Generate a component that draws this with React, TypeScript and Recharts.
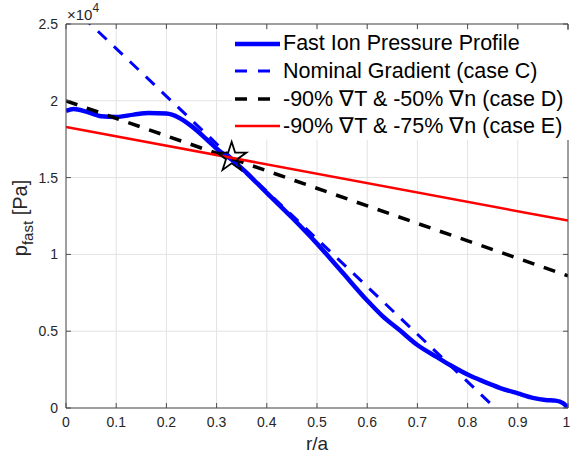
import React from 'react';
import {
  ComposedChart,
  Line,
  Scatter,
  XAxis,
  YAxis,
  ZAxis,
  CartesianGrid,
  Legend,
} from 'recharts';

const FONT = "'Liberation Sans', Arial, Helvetica, sans-serif";
const AXIS_COLOR = '#4d4d4d';
const TEXT_COLOR = '#262626';
const GRID_COLOR = '#e3e3e3';

const R_TICKS = [0, 0.1, 0.2, 0.3, 0.4, 0.5, 0.6, 0.7, 0.8, 0.9, 1];
const P_TICKS = [0, 0.5, 1, 1.5, 2, 2.5];

// fast ion pressure, in units of 1e4 Pa
const PROFILE_R = [
  0, 0.015, 0.04, 0.07, 0.1, 0.135, 0.165, 0.2, 0.225, 0.25, 0.28, 0.305, 0.333,
  0.36, 0.4, 0.45, 0.5, 0.55, 0.6, 0.63, 0.665, 0.7, 0.738, 0.765, 0.8, 0.83, 0.865,
  0.9, 0.93, 0.955, 0.975, 0.99, 1,
];
const PROFILE_P = [
  1.935, 1.946, 1.93, 1.9, 1.895, 1.91, 1.92, 1.917, 1.89, 1.835, 1.75, 1.675, 1.61,
  1.53, 1.4, 1.24, 1.07, 0.885, 0.7, 0.6, 0.506, 0.41, 0.333, 0.28, 0.218, 0.175,
  0.13, 0.095, 0.066, 0.052, 0.048, 0.032, 0,
];

const CASE_C_R = [0, 0.855];
const CASE_C_P = [2.65, 0];
const CASE_D_R = [0, 1];
const CASE_D_P = [2.0, 0.86];
const CASE_E_R = [0, 1];
const CASE_E_P = [1.83, 1.22];

const STAR_R = [0.33];
const STAR_P = [1.632];

const toRows = (r: number[], p: number[]) => r.map((x, i) => ({ r: x, p: p[i] }));

const SERIES = [
  { name: 'Fast Ion Pressure Profile', data: toRows(PROFILE_R, PROFILE_P), color: '#0000ff', width: 4.5, dash: undefined, curve: 'monotone' },
  { name: 'Nominal Gradient (case C)', data: toRows(CASE_C_R, CASE_C_P), color: '#0000ff', width: 3, dash: '12 10', curve: 'linear' },
  { name: '-90% \u2207T & -50% \u2207n (case D)', data: toRows(CASE_D_R, CASE_D_P), color: '#000000', width: 3.5, dash: '12 10', curve: 'linear' },
  { name: '-90% \u2207T & -75% \u2207n (case E)', data: toRows(CASE_E_R, CASE_E_P), color: '#ff0000', width: 2.5, dash: undefined, curve: 'linear' },
];

const LegendBox = () => (
  <div style={{ background: '#fff', padding: '0 4px 0 3px', fontFamily: FONT, fontSize: 21.5, color: '#000' }}>
    {SERIES.map((s) => (
      <div key={s.name} style={{ display: 'flex', alignItems: 'center', height: 27.5 }}>
        <svg width={45} height={10} style={{ flexShrink: 0 }}>
          <line x1={0} x2={45} y1={5} y2={5} stroke={s.color} strokeWidth={s.width} strokeDasharray={s.dash ? '12 11' : undefined} />
        </svg>
        <span style={{ marginLeft: 3, whiteSpace: 'nowrap' }}>{s.name}</span>
      </div>
    ))}
  </div>
);

const YLabel = (props: any) => {
  const { x, y, width, height } = props.viewBox;
  const cx = x + 27;
  const cy = y + height / 2 + 2;
  return (
    <g fontFamily={FONT} fill={TEXT_COLOR}>
      <text x={cx} y={cy} transform={`rotate(-90 ${cx} ${cy})`} textAnchor="middle" fontSize={20}>
        p<tspan fontSize={15} dy={6}>fast</tspan>
        <tspan dy={-6}> [Pa]</tspan>
      </text>
      <text x={x + width + 1} y={y - 4} fontSize={15}>
        {'\u00d710'}
        <tspan fontSize={12} dy={-8}>4</tspan>
      </text>
    </g>
  );
};

export default function App() {
  return (
    <div style={{ width: 570, height: 460 }}>
      <style>{'body{margin:0}'}</style>
      <ComposedChart width={570} height={460} margin={{ top: 24, right: 2, left: 0, bottom: 0 }}>
        <CartesianGrid stroke={GRID_COLOR} verticalValues={R_TICKS} horizontalValues={P_TICKS} />
        <XAxis
          xAxisId={0}
          type="number"
          dataKey="r"
          domain={[0, 1]}
          ticks={R_TICKS}
          allowDataOverflow
          height={52}
          tickSize={-5}
          tickMargin={14}
          stroke={AXIS_COLOR}
          tick={{ fill: TEXT_COLOR, fontSize: 14, fontFamily: FONT }}
          label={{ value: 'r/a', position: 'insideBottom', offset: 10, fill: TEXT_COLOR, fontSize: 19, fontFamily: FONT }}
        />
        <XAxis
          xAxisId="top"
          orientation="top"
          type="number"
          dataKey="r"
          domain={[0, 1]}
          ticks={R_TICKS}
          allowDataOverflow
          mirror
          tickSize={5}
          stroke={AXIS_COLOR}
          tickFormatter={() => ''}
        />
        <YAxis
          yAxisId={0}
          type="number"
          dataKey="p"
          domain={[0, 2.5]}
          ticks={P_TICKS}
          allowDataOverflow
          width={66}
          tickSize={-5}
          tickMargin={13}
          stroke={AXIS_COLOR}
          tick={{ fill: TEXT_COLOR, fontSize: 14, fontFamily: FONT }}
          label={{ content: YLabel }}
        />
        <YAxis
          yAxisId="right"
          orientation="right"
          type="number"
          dataKey="p"
          domain={[0, 2.5]}
          ticks={P_TICKS}
          allowDataOverflow
          mirror
          tickSize={5}
          stroke={AXIS_COLOR}
          tickFormatter={() => ''}
        />
        <ZAxis range={[270, 270]} />
        {SERIES.map((s) => (
          <Line
            key={s.name}
            data={s.data}
            dataKey="p"
            type={s.curve as any}
            stroke={s.color}
            strokeWidth={s.width}
            strokeDasharray={s.dash}
            dot={false}
            activeDot={false}
            isAnimationActive={false}
          />
        ))}
        <Scatter
          data={toRows(STAR_R, STAR_P)}
          dataKey="p"
          shape="star"
          fill="none"
          stroke="#000"
          strokeWidth={1.8}
          isAnimationActive={false}
        />
        <Legend
          layout="vertical"
          align="center"
          verticalAlign="middle"
          content={<LegendBox />}
          wrapperStyle={{ left: 232, top: 30, width: 337 }}
        />
      </ComposedChart>
    </div>
  );
}
